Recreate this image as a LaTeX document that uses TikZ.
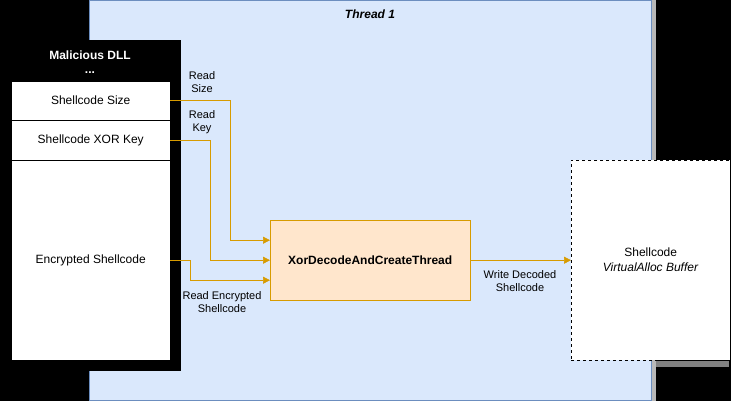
\documentclass[tikz,border=0pt]{standalone}
\usepackage{fontspec}
\setmainfont{Liberation Sans}
\usetikzlibrary{arrows.meta,positioning,calc}
\definecolor{threadfill}{HTML}{DAE8FC}
\definecolor{threadline}{HTML}{6C8EBF}
\definecolor{funcfill}{HTML}{FFE6CC}
\definecolor{funcline}{HTML}{D79B00}
\definecolor{strip}{HTML}{B8B8B8}

\begin{document}
\begin{tikzpicture}[x=1pt, y=-1pt,
  row/.style={draw=black, fill=white, minimum width=159pt, font=\fontsize{12}{14}\selectfont,
              inner sep=0pt, anchor=north west},
  lbl/.style={font=\fontsize{11}{13}\selectfont, align=center, inner sep=1pt},
  link/.style={-{Triangle[length=7pt,width=7pt]}, draw=funcline, line width=0.6pt}
]
  % background and thread container
  \fill[black] (0,0) rectangle (731,401);
  \useasboundingbox (0,0) rectangle (731,401);
  \fill[strip] (651,0) rectangle (656,401);
  \fill[strip!70!black] (656,361) rectangle (729,367);
  \node[draw=threadline, fill=threadfill, line width=0.8pt, minimum width=562pt, minimum height=400pt,
        inner sep=0pt, anchor=north west] (thread) at (89,0) {};
  \node[font=\fontsize{12}{14}\selectfont\bfseries\itshape] (title) at (370,14) {Thread 1};

  % malicious dll
  \node[fill=black, minimum width=181pt, minimum height=331pt, inner sep=0pt, anchor=north west] (dll) at (0,40) {};
  \node[text=white, font=\fontsize{12}{14}\selectfont\bfseries, align=center] (dlltitle) at (90,62)
    {Malicious DLL\\[0pt]...};
  \node[row, minimum height=39pt] (size) at (11,81) {Shellcode Size};
  \node[row, minimum height=40pt] (key)  at (11,120) {Shellcode XOR Key};
  \node[row, minimum height=200pt] (enc) at (11,160) {Encrypted Shellcode};

  % decoder and buffer
  \node[draw=funcline, fill=funcfill, minimum width=200pt, minimum height=80pt, inner sep=0pt,
        font=\fontsize{12}{14}\selectfont\bfseries, anchor=north west] (xor) at (270,220) {XorDecodeAndCreateThread};
  \node[draw=black, dashed, fill=white, minimum width=159pt, minimum height=200pt, inner sep=0pt,
        font=\fontsize{12}{15}\selectfont, align=center, anchor=north west] (buf) at (571,160)
    {Shellcode\\\textit{VirtualAlloc Buffer}};

  \draw[link] (size.east) -- ++(60,0) |- ([yshift=20pt]xor.west);
  \draw[link] (key.east) -- ++(40,0) |- (xor.west);
  \draw[link] (enc.east) -- ++(20,0) |- ([yshift=-20pt]xor.west);
  \draw[link] (xor.east) -- (buf.west);

  \node[lbl] (l1) at (202,82) {Read\\Size};
  \node[lbl] (l2) at (202,122) {Read\\Key};
  \node[lbl] (l3) at (222,302) {Read Encrypted\\Shellcode};
  \node[lbl] (l4) at (520,281) {Write Decoded\\Shellcode};
\end{tikzpicture}
\end{document}
